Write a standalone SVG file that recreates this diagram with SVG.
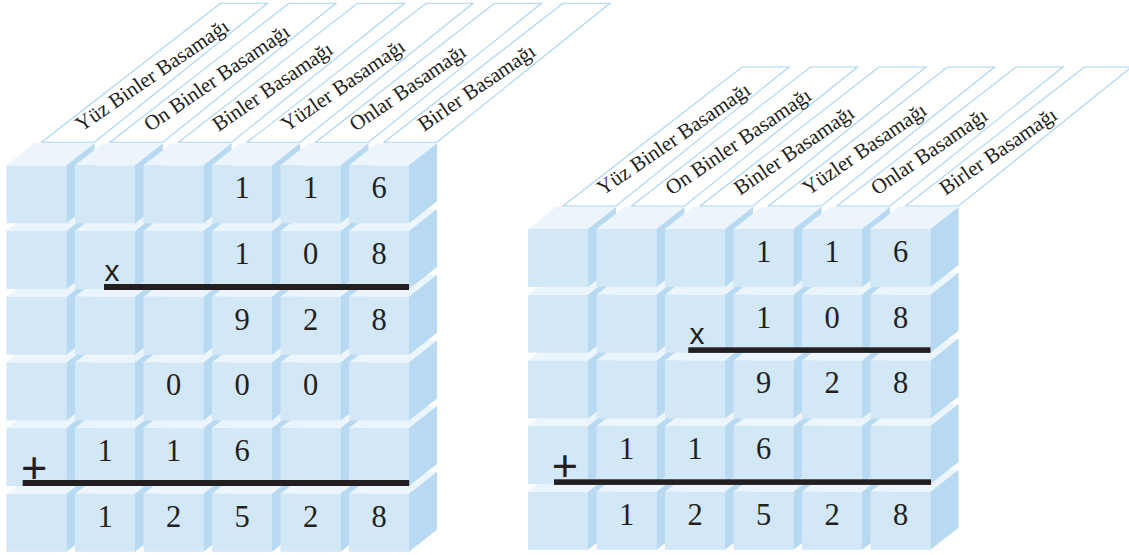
<svg xmlns="http://www.w3.org/2000/svg" xmlns:xlink="http://www.w3.org/1999/xlink" width="1129" height="555" viewBox="0 0 1129 555">
<style>
.front{fill:#d3e8f7}
.side{fill:#b7d9f2}
.top{fill:#ecf5fc}
.banner{fill:#ffffff;stroke:#a9d3f1;stroke-width:1.1}
.lbl{font-family:"Liberation Serif","Times New Roman",serif;font-size:21px;fill:#231f20}
.dig{font-family:"Liberation Serif","Times New Roman",serif;font-size:30.5px;fill:#231f20;text-anchor:middle}
.op{font-family:"Liberation Sans",Arial,sans-serif;fill:#231f20}
.bar{fill:#231f20}
</style>
<defs>
<g id="cube">
<rect class="front" x="0" y="0" width="60" height="58"/>
<polygon class="top" points="0,0 60,0 88,-22 28,-22"/>
<polygon class="side" points="60,0 88,-22 88,36 60,58"/>
</g>
<polygon id="banner" class="banner" points="35,-1 88,-1 261,-140 214,-140"/>
</defs>
<rect width="1129" height="555" fill="#ffffff"/>

<g id="left-block">
<g id="left-banners">
<use xlink:href="#banner" x="6.5" y="143.3"/>
<use xlink:href="#banner" x="75" y="143.3"/>
<use xlink:href="#banner" x="143.5" y="143.3"/>
<use xlink:href="#banner" x="212" y="143.3"/>
<use xlink:href="#banner" x="280.5" y="143.3"/>
<use xlink:href="#banner" x="349" y="143.3"/>
<text class="lbl" transform="translate(81.5,132) rotate(-34.5)">Yüz Binler Basamağı</text>
<text class="lbl" transform="translate(150,132) rotate(-34.5)">On Binler Basamağı</text>
<text class="lbl" transform="translate(218.5,132) rotate(-34.5)">Binler Basamağı</text>
<text class="lbl" transform="translate(287,132) rotate(-34.5)">Yüzler Basamağı</text>
<text class="lbl" transform="translate(355.5,132) rotate(-34.5)">Onlar Basamağı</text>
<text class="lbl" transform="translate(424,132) rotate(-34.5)">Birler Basamağı</text>
</g>
<g id="left-cubes">
<use xlink:href="#cube" x="6.5" y="493.8"/><use xlink:href="#cube" x="75" y="493.8"/><use xlink:href="#cube" x="143.5" y="493.8"/><use xlink:href="#cube" x="212" y="493.8"/><use xlink:href="#cube" x="280.5" y="493.8"/><use xlink:href="#cube" x="349" y="493.8"/>
<use xlink:href="#cube" x="6.5" y="428.1"/><use xlink:href="#cube" x="75" y="428.1"/><use xlink:href="#cube" x="143.5" y="428.1"/><use xlink:href="#cube" x="212" y="428.1"/><use xlink:href="#cube" x="280.5" y="428.1"/><use xlink:href="#cube" x="349" y="428.1"/>
<use xlink:href="#cube" x="6.5" y="362.4"/><use xlink:href="#cube" x="75" y="362.4"/><use xlink:href="#cube" x="143.5" y="362.4"/><use xlink:href="#cube" x="212" y="362.4"/><use xlink:href="#cube" x="280.5" y="362.4"/><use xlink:href="#cube" x="349" y="362.4"/>
<use xlink:href="#cube" x="6.5" y="296.7"/><use xlink:href="#cube" x="75" y="296.7"/><use xlink:href="#cube" x="143.5" y="296.7"/><use xlink:href="#cube" x="212" y="296.7"/><use xlink:href="#cube" x="280.5" y="296.7"/><use xlink:href="#cube" x="349" y="296.7"/>
<use xlink:href="#cube" x="6.5" y="231"/><use xlink:href="#cube" x="75" y="231"/><use xlink:href="#cube" x="143.5" y="231"/><use xlink:href="#cube" x="212" y="231"/><use xlink:href="#cube" x="280.5" y="231"/><use xlink:href="#cube" x="349" y="231"/>
<use xlink:href="#cube" x="6.5" y="165.3"/><use xlink:href="#cube" x="75" y="165.3"/><use xlink:href="#cube" x="143.5" y="165.3"/><use xlink:href="#cube" x="212" y="165.3"/><use xlink:href="#cube" x="280.5" y="165.3"/><use xlink:href="#cube" x="349" y="165.3"/>
</g>
<g id="left-digits">
<text class="dig" x="242" y="198.3">1</text><text class="dig" x="310.5" y="198.3">1</text><text class="dig" x="379" y="198.3">6</text>
<text class="dig" x="242" y="264">1</text><text class="dig" x="310.5" y="264">0</text><text class="dig" x="379" y="264">8</text>
<text class="dig" x="242" y="329.7">9</text><text class="dig" x="310.5" y="329.7">2</text><text class="dig" x="379" y="329.7">8</text>
<text class="dig" x="173.5" y="395.4">0</text><text class="dig" x="242" y="395.4">0</text><text class="dig" x="310.5" y="395.4">0</text>
<text class="dig" x="105" y="461.1">1</text><text class="dig" x="173.5" y="461.1">1</text><text class="dig" x="242" y="461.1">6</text>
<text class="dig" x="105" y="526.8">1</text><text class="dig" x="173.5" y="526.8">2</text><text class="dig" x="242" y="526.8">5</text><text class="dig" x="310.5" y="526.8">2</text><text class="dig" x="379" y="526.8">8</text>
</g>
<g id="left-operators">
<text class="op" x="104.5" y="280.7" font-size="30">x</text>
<rect class="bar" x="104" y="284" width="305" height="6"/>
<text class="op" x="21.1" y="482.6" font-size="45">+</text>
<rect class="bar" x="22.7" y="480" width="386.5" height="6"/>
</g>
</g>

<g id="right-block">
<g id="right-banners">
<use xlink:href="#banner" x="528" y="207"/>
<use xlink:href="#banner" x="596.5" y="207"/>
<use xlink:href="#banner" x="665" y="207"/>
<use xlink:href="#banner" x="733.5" y="207"/>
<use xlink:href="#banner" x="802" y="207"/>
<use xlink:href="#banner" x="870.5" y="207"/>
<text class="lbl" transform="translate(603,195.7) rotate(-34.5)">Yüz Binler Basamağı</text>
<text class="lbl" transform="translate(671.5,195.7) rotate(-34.5)">On Binler Basamağı</text>
<text class="lbl" transform="translate(740,195.7) rotate(-34.5)">Binler Basamağı</text>
<text class="lbl" transform="translate(808.5,195.7) rotate(-34.5)">Yüzler Basamağı</text>
<text class="lbl" transform="translate(877,195.7) rotate(-34.5)">Onlar Basamağı</text>
<text class="lbl" transform="translate(945.5,195.7) rotate(-34.5)">Birler Basamağı</text>
</g>
<g id="right-cubes">
<use xlink:href="#cube" x="528" y="491.8"/><use xlink:href="#cube" x="596.5" y="491.8"/><use xlink:href="#cube" x="665" y="491.8"/><use xlink:href="#cube" x="733.5" y="491.8"/><use xlink:href="#cube" x="802" y="491.8"/><use xlink:href="#cube" x="870.5" y="491.8"/>
<use xlink:href="#cube" x="528" y="426.1"/><use xlink:href="#cube" x="596.5" y="426.1"/><use xlink:href="#cube" x="665" y="426.1"/><use xlink:href="#cube" x="733.5" y="426.1"/><use xlink:href="#cube" x="802" y="426.1"/><use xlink:href="#cube" x="870.5" y="426.1"/>
<use xlink:href="#cube" x="528" y="360.4"/><use xlink:href="#cube" x="596.5" y="360.4"/><use xlink:href="#cube" x="665" y="360.4"/><use xlink:href="#cube" x="733.5" y="360.4"/><use xlink:href="#cube" x="802" y="360.4"/><use xlink:href="#cube" x="870.5" y="360.4"/>
<use xlink:href="#cube" x="528" y="294.7"/><use xlink:href="#cube" x="596.5" y="294.7"/><use xlink:href="#cube" x="665" y="294.7"/><use xlink:href="#cube" x="733.5" y="294.7"/><use xlink:href="#cube" x="802" y="294.7"/><use xlink:href="#cube" x="870.5" y="294.7"/>
<use xlink:href="#cube" x="528" y="229"/><use xlink:href="#cube" x="596.5" y="229"/><use xlink:href="#cube" x="665" y="229"/><use xlink:href="#cube" x="733.5" y="229"/><use xlink:href="#cube" x="802" y="229"/><use xlink:href="#cube" x="870.5" y="229"/>
</g>
<g id="right-digits">
<text class="dig" x="763.5" y="262">1</text><text class="dig" x="832" y="262">1</text><text class="dig" x="900.5" y="262">6</text>
<text class="dig" x="763.5" y="327.7">1</text><text class="dig" x="832" y="327.7">0</text><text class="dig" x="900.5" y="327.7">8</text>
<text class="dig" x="763.5" y="393.4">9</text><text class="dig" x="832" y="393.4">2</text><text class="dig" x="900.5" y="393.4">8</text>
<text class="dig" x="626.5" y="459.1">1</text><text class="dig" x="695" y="459.1">1</text><text class="dig" x="763.5" y="459.1">6</text>
<text class="dig" x="626.5" y="524.8">1</text><text class="dig" x="695" y="524.8">2</text><text class="dig" x="763.5" y="524.8">5</text><text class="dig" x="832" y="524.8">2</text><text class="dig" x="900.5" y="524.8">8</text>
</g>
<g id="right-operators">
<text class="op" x="689.5" y="343.5" font-size="30">x</text>
<rect class="bar" x="688.3" y="347.3" width="242.2" height="5.6"/>
<text class="op" x="551.8" y="481.3" font-size="45">+</text>
<rect class="bar" x="554" y="479.3" width="377" height="5.6"/>
</g>
</g>
</svg>
